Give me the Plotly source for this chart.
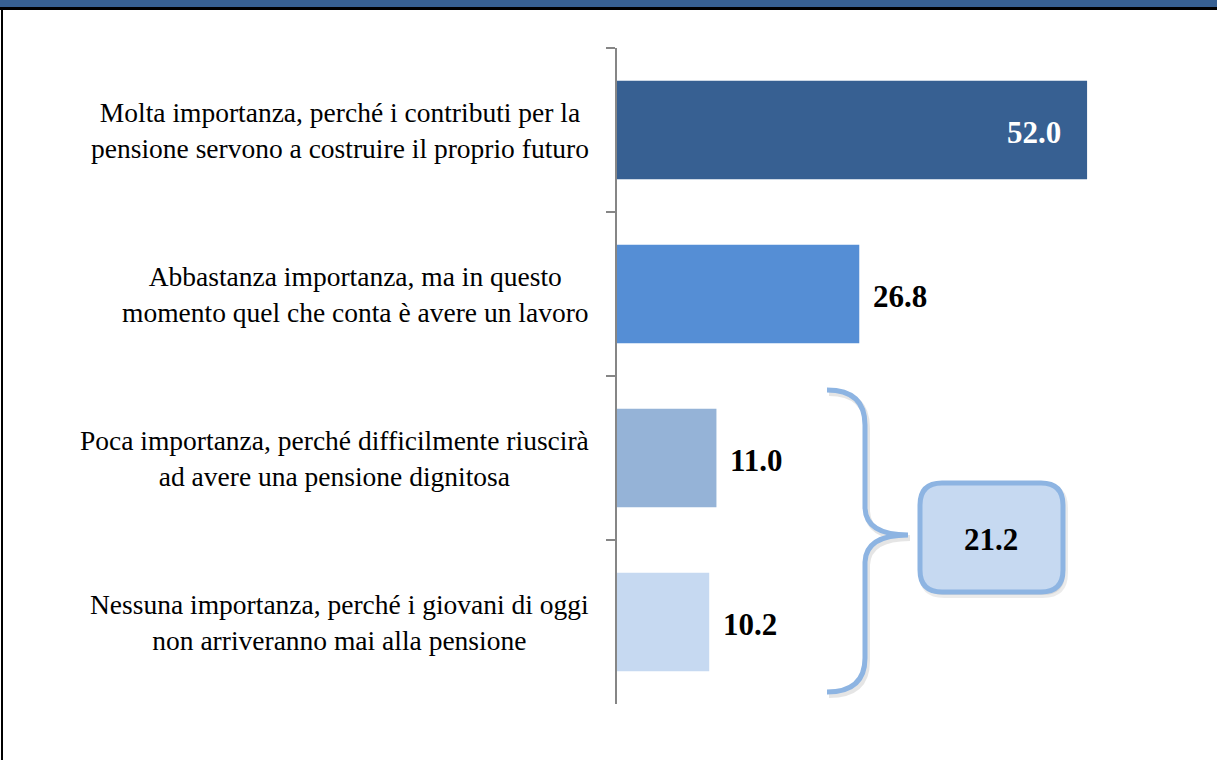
import plotly.graph_objects as go

# ---- data ----
categories = [
    "Molta importanza, perché i contributi per la<br>pensione servono a costruire il proprio futuro",
    "Abbastanza importanza, ma in questo<br>momento quel che conta è avere un lavoro",
    "Poca importanza, perché difficilmente riuscirà<br>ad avere una pensione dignitosa",
    "Nessuna importanza, perché i giovani di oggi<br>non arriveranno mai alla pensione",
]
values = [52.0, 26.8, 11.0, 10.2]
bar_colors = ["#376092", "#558ED5", "#95B3D7", "#C6D9F1"]
group_total = round(values[2] + values[3], 1)

SERIF = "Liberation Serif, Times New Roman, serif"

# ---- layout geometry (pixels) ----
W, H = 1217, 760
L, R, T, B = 617, 57, 48, 56
PW, PH = W - L - R, H - T - B
X_MAX = PW / 9.04


def px(x):
    return (x - L) / PW


def py(y):
    return (H - B - y) / PH


def path(cmds):
    # cmds: list of (letter, [(x, y), ...]) in pixel coords -> paper path
    out = []
    for c, pts in cmds:
        out.append(c + " " + " ".join(f"{px(x):.5f},{py(y):.5f}" for x, y in pts))
    return " ".join(out)


fig = go.Figure()

fig.add_trace(go.Bar(
    x=values, y=categories, orientation="h",
    marker=dict(color=bar_colors, line=dict(width=0)),
    hoverinfo="x+y",
    showlegend=False,
))

annotations = []
for i, (cat, v) in enumerate(zip(categories, values)):
    annotations.append(dict(
        x=px(591), xref="paper", y=cat, yref="y",
        text=cat, showarrow=False, xanchor="right", yanchor="middle", align="center",
        font=dict(family=SERIF, size=27.5, color="#000000"),
    ))
    inside = i == 0
    annotations.append(dict(
        x=v, xref="x", y=cat, yref="y",
        text=f"<b>{v:.1f}</b>", showarrow=False,
        xanchor="right" if inside else "left", yanchor="middle",
        xshift=-24 if inside else 12, yshift=-2,
        font=dict(family=SERIF, size=31,
                  color="#FFFFFF" if inside else "#000000"),
    ))

# total box label
annotations.append(dict(
    x=px(991), xref="paper", y=py(539), yref="paper",
    xanchor="center", yanchor="middle",
    text=f"<b>{group_total:.1f}</b>", showarrow=False,
    font=dict(family=SERIF, size=31, color="#000000"),
))

brace = [
    ("M", [(827, 390)]),
    ("Q", [(865, 390), (865, 425)]),
    ("L", [(865, 508)]),
    ("Q", [(866, 535), (908, 535)]),
    ("Q", [(866, 535), (865, 562)]),
    ("L", [(865, 658)]),
    ("Q", [(865, 692), (827, 692)]),
]
brace_shadow = [(c, [(x + 2, y + 3) for x, y in pts]) for c, pts in brace]

bx0, bx1, by0, by1, rr = 920, 1063, 483, 592, 22
box = [
    ("M", [(bx0 + rr, by0)]),
    ("L", [(bx1 - rr, by0)]),
    ("Q", [(bx1, by0), (bx1, by0 + rr)]),
    ("L", [(bx1, by1 - rr)]),
    ("Q", [(bx1, by1), (bx1 - rr, by1)]),
    ("L", [(bx0 + rr, by1)]),
    ("Q", [(bx0, by1), (bx0, by1 - rr)]),
    ("L", [(bx0, by0 + rr)]),
    ("Q", [(bx0, by0), (bx0 + rr, by0)]),
]
box_shadow = [(c, [(x + 2, y + 3) for x, y in pts]) for c, pts in box]

shapes = [
    # header band and frame
    dict(type="rect", xref="paper", yref="paper", x0=px(0), x1=px(W), y0=py(0), y1=py(7),
         fillcolor="#376092", line=dict(width=0), layer="above"),
    dict(type="rect", xref="paper", yref="paper", x0=px(0), x1=px(W), y0=py(7), y1=py(10),
         fillcolor="#000000", line=dict(width=0), layer="above"),
    dict(type="rect", xref="paper", yref="paper", x0=px(1), x1=px(3), y0=py(8), y1=py(H),
         fillcolor="#000000", line=dict(width=0), layer="above"),
    # brace
    dict(type="path", xref="paper", yref="paper", path=path(brace_shadow),
         line=dict(color="rgba(0,0,0,0.10)", width=6)),
    dict(type="path", xref="paper", yref="paper", path=path(brace),
         line=dict(color="#8DB4E2", width=5)),
    # total box
    dict(type="path", xref="paper", yref="paper", path=path(box_shadow) + " Z",
         fillcolor="rgba(0,0,0,0.08)", line=dict(color="rgba(0,0,0,0.08)", width=6)),
    dict(type="path", xref="paper", yref="paper", path=path(box) + " Z",
         fillcolor="#C6D9F1", line=dict(color="#8DB4E2", width=5)),
]

fig.update_layout(
    width=W, height=H,
    margin=dict(l=L, r=R, t=T, b=B, pad=0),
    paper_bgcolor="#FFFFFF", plot_bgcolor="#FFFFFF",
    bargap=0.4,
    xaxis=dict(range=[0, X_MAX], visible=False, fixedrange=True),
    yaxis=dict(
        autorange="reversed", showticklabels=False, showgrid=False, zeroline=False,
        showline=True, linecolor="#868686", linewidth=2,
        ticks="outside", ticklen=9, tickcolor="#868686", tickwidth=2,
        tickson="boundaries", fixedrange=True,
    ),
    annotations=annotations,
    shapes=shapes,
)

# page body has a default margin; drop it so the figure sits at the window's corner
fig.write_html("out.html", config={"displayModeBar": False},
               post_script="document.body.style.margin='0';")
